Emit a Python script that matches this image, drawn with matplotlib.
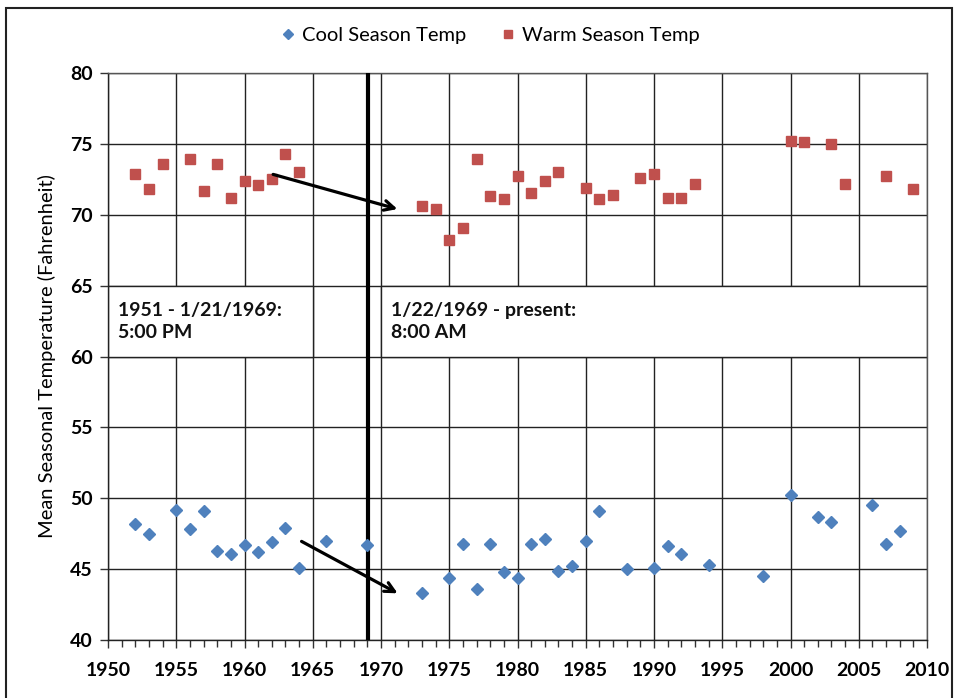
import matplotlib.pyplot as plt
from matplotlib.patches import Rectangle
from matplotlib.ticker import MultipleLocator

plt.rcParams['font.family'] = ['Lato', 'DejaVu Sans']

# Cool season (Dec-Feb style) mean temps
cool_years = [1952, 1953, 1955, 1956, 1957, 1958, 1959, 1960, 1961, 1962, 1963, 1964,
              1966, 1969, 1973, 1975, 1976, 1977, 1978, 1979, 1980, 1981, 1982, 1983,
              1984, 1985, 1986, 1988, 1990, 1991, 1992, 1994, 1998, 2000, 2002, 2003,
              2006, 2007, 2008]
cool_temps = [48.2, 47.5, 49.2, 47.8, 49.1, 46.3, 46.1, 46.7, 46.2, 46.9, 47.9, 45.1,
              47.0, 46.7, 43.3, 44.4, 46.8, 43.6, 46.8, 44.8, 44.4, 46.8, 47.1, 44.9,
              45.2, 47.0, 49.1, 45.0, 45.1, 46.6, 46.1, 45.3, 44.5, 50.2, 48.7, 48.3,
              49.5, 46.8, 47.7]

# Warm season mean temps
warm_years = [1952, 1953, 1954, 1956, 1957, 1958, 1959, 1960, 1961, 1962, 1963, 1964,
              1973, 1974, 1975, 1976, 1977, 1978, 1979, 1980, 1981, 1982, 1983, 1985,
              1986, 1987, 1989, 1990, 1991, 1992, 1993, 2000, 2001, 2003, 2004, 2007,
              2009]
warm_temps = [72.9, 71.8, 73.6, 73.9, 71.7, 73.6, 71.2, 72.4, 72.1, 72.5, 74.3, 73.0,
              70.6, 70.4, 68.2, 69.1, 73.9, 71.3, 71.1, 72.7, 71.5, 72.4, 73.0, 71.9,
              71.1, 71.4, 72.6, 72.9, 71.2, 71.2, 72.2, 75.2, 75.1, 75.0, 72.2, 72.7,
              71.8]

# observation time change
change_year = 1969.06
label_before = '1951 - 1/21/1969:\n5:00 PM'
label_after = '1/22/1969 - present:\n8:00 AM'

# arrows (start, end) in data units
warm_arrow = [(1961.9, 72.9), (1971.4, 70.35)]
cool_arrow = [(1964.0, 47.05), (1971.4, 43.2)]

cool_color = '#4F81BD'
warm_color = '#C0504D'

fig = plt.figure(figsize=(9.55, 6.98), dpi=100)
ax = fig.add_axes([0.1131, 0.0831, 0.8576, 0.8123])

ax.set_xlim(1950, 2010)
ax.set_ylim(40, 80)
ax.xaxis.set_major_locator(MultipleLocator(5))
ax.xaxis.set_minor_locator(MultipleLocator(1))
ax.yaxis.set_major_locator(MultipleLocator(5))
ax.grid(True, which='major', color='#222222', linewidth=1.0)
ax.set_axisbelow(True)
for s in ax.spines.values():
    s.set_color('#555555')
    s.set_linewidth(1.0)
ax.spines['left'].set_color('#222222')
ax.spines['bottom'].set_color('#222222')
ax.tick_params(axis='both', which='major', direction='out', length=6, width=1,
               color='#333333', labelsize=14, pad=10)
ax.tick_params(axis='y', which='major', pad=5)
ax.tick_params(axis='x', which='minor', direction='out', length=5, width=1,
               color='#333333')
for lab in ax.get_xticklabels() + ax.get_yticklabels():
    lab.set_fontweight('bold')

# text boxes for the two observation periods
ax.add_patch(Rectangle((1950, 60), 15, 5, facecolor='white', edgecolor='#222222',
                       linewidth=1.0, zorder=2))
ax.add_patch(Rectangle((1970, 60), 40, 5, facecolor='white', edgecolor='#222222',
                       linewidth=1.0, zorder=2))
ax.text(1950.7, 62.45, label_before, fontsize=14, fontweight='bold', va='center',
        ha='left', linespacing=1.35, color='#111111', zorder=3)
ax.text(1970.7, 62.45, label_after, fontsize=14, fontweight='bold', va='center',
        ha='left', linespacing=1.35, color='#111111', zorder=3)

ax.axvline(change_year, color='black', linewidth=3.0, zorder=4)

ax.plot(cool_years, cool_temps, linestyle='none', marker='D', markersize=6.5,
        color=cool_color, label='Cool Season Temp', zorder=5)
ax.plot(warm_years, warm_temps, linestyle='none', marker='s', markersize=7.5,
        color=warm_color, label='Warm Season Temp', zorder=5)

for (x0, y0), (x1, y1) in [warm_arrow, cool_arrow]:
    ax.annotate('', xy=(x1, y1), xytext=(x0, y0),
                arrowprops=dict(arrowstyle='->,head_length=0.7,head_width=0.35',
                                color='black', lw=2.3), zorder=6)

ax.set_ylabel('Mean Seasonal Temperature (Fahrenheit)', fontsize=14.5, labelpad=10)

fig.legend(loc='upper center', bbox_to_anchor=(0.512, 0.988), ncol=2, frameon=False,
           fontsize=14.5, markerscale=0.75, handletextpad=0.2, columnspacing=1.6,
           handlelength=1.0)

fig.patches.append(Rectangle((6 / 955, -0.01), 946 / 955, 1 - 8 / 698 + 0.01,
                             transform=fig.transFigure, fill=False,
                             edgecolor='#222222', linewidth=1.5))

fig.savefig('out.png', dpi=100)
